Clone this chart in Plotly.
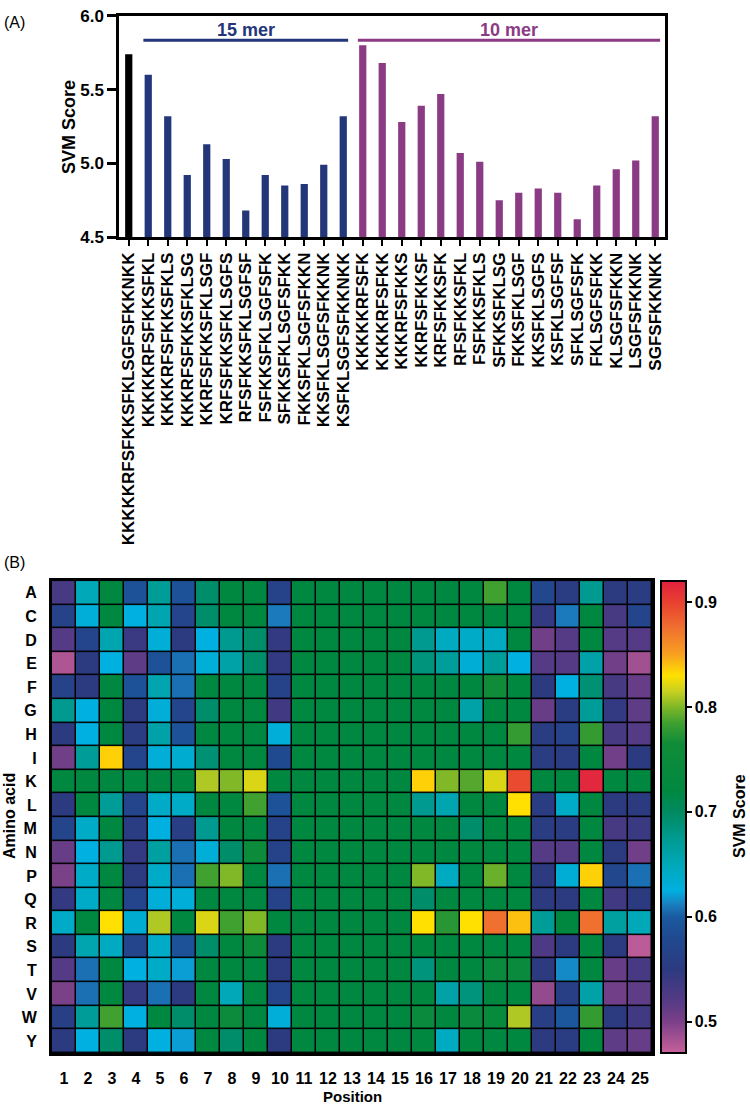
import plotly.graph_objects as go

W, H = 750, 1115

# ---------------- data: panel A ----------------
peptides = [
    "KKKKKRFSFKKSFKLSGFSFKKNKK",
    "KKKKKRFSFKKSFKL", "KKKKRFSFKKSFKLS", "KKKRFSFKKSFKLSG", "KKRFSFKKSFKLSGF",
    "KRFSFKKSFKLSGFS", "RFSFKKSFKLSGFSF", "FSFKKSFKLSGFSFK", "SFKKSFKLSGFSFKK",
    "FKKSFKLSGFSFKKN", "KKSFKLSGFSFKKNK", "KSFKLSGFSFKKNKK",
    "KKKKKRFSFK", "KKKKRFSFKK", "KKKRFSFKKS", "KKRFSFKKSF", "KRFSFKKSFK",
    "RFSFKKSFKL", "FSFKKSFKLS", "SFKKSFKLSG", "FKKSFKLSGF", "KKSFKLSGFS",
    "KSFKLSGFSF", "SFKLSGFSFK", "FKLSGFSFKK", "KLSGFSFKKN", "LSGFSFKKNK",
    "SGFSFKKNKK",
]
scores = [
    5.74,
    5.60, 5.32, 4.92, 5.13, 5.03, 4.68, 4.92, 4.85, 4.86, 4.99, 5.32,
    5.80, 5.68, 5.28, 5.39, 5.47, 5.07, 5.01, 4.75, 4.80, 4.83, 4.80,
    4.62, 4.85, 4.96, 5.02, 5.32,
]
groups = ["25 mer"] + ["15 mer"] * 11 + ["10 mer"] * 16
group_colors = {"25 mer": "#000000", "15 mer": "#24367a", "10 mer": "#8b3b84"}
bracket_groups = ["15 mer", "10 mer"]
y_ticks = [4.5, 5.0, 5.5, 6.0]

# ---------------- data: panel B ----------------
amino_acids = list("ACDEFGHIKLMNPQRSTVWY")
positions = list(range(1, 26))
G = 0.72
heat = [
    # A
    [0.53, 0.65, G, 0.59, 0.67, 0.59, 0.695, G, G, 0.565, G, G, G, G, G, G, G, G, 0.785, G, 0.575, 0.555, 0.675, 0.55, 0.555],
    # C
    [0.565, 0.63, G, 0.625, 0.655, 0.57, 0.695, G, G, 0.61, G, G, G, G, G, G, G, G, G, G, 0.545, 0.61, G, 0.53, 0.57],
    # D
    [0.52, 0.57, 0.655, 0.54, 0.63, 0.55, 0.625, 0.675, 0.695, 0.545, G, G, G, G, G, 0.675, 0.645, 0.64, 0.645, G, 0.505, 0.52, G, 0.52, 0.52],
    # E
    [0.48, 0.55, 0.625, 0.515, 0.59, 0.607, 0.63, 0.66, 0.695, 0.545, G, G, G, G, G, 0.685, 0.668, 0.632, 0.668, 0.625, 0.52, 0.52, 0.66, 0.505, 0.485],
    # F
    [0.565, 0.55, G, 0.59, 0.655, 0.607, G, G, G, 0.565, G, G, G, G, G, G, G, G, 0.765, G, 0.55, 0.625, 0.69, 0.53, 0.51],
    # G
    [0.675, 0.625, G, 0.55, 0.63, 0.57, 0.695, G, G, 0.535, G, G, G, G, G, G, G, 0.66, G, G, 0.51, 0.555, 0.67, 0.545, 0.515],
    # H
    [0.55, 0.625, G, 0.555, 0.66, 0.59, G, G, G, 0.63, G, G, G, G, G, G, G, G, G, 0.78, 0.555, 0.565, 0.78, 0.53, 0.52],
    # I
    [0.505, 0.67, 0.835, 0.57, 0.63, 0.635, 0.69, G, G, 0.58, G, G, G, G, G, G, G, G, G, G, 0.555, 0.555, G, 0.505, 0.55],
    # K
    [G, G, G, G, G, G, 0.81, 0.80, 0.82, G, G, G, G, G, G, 0.835, 0.80, 0.79, 0.82, 0.895, G, G, 0.915, G, G],
    # L
    [0.55, G, 0.67, 0.57, 0.64, 0.64, G, G, 0.785, 0.59, G, G, G, G, G, 0.675, 0.655, G, G, 0.83, 0.555, 0.64, G, 0.55, 0.55],
    # M
    [0.57, 0.64, G, 0.555, 0.625, 0.56, 0.675, G, G, 0.565, G, G, G, G, G, G, G, 0.695, G, G, 0.555, 0.555, G, 0.53, 0.54],
    # N
    [0.51, 0.625, 0.675, 0.545, 0.665, 0.607, 0.63, 0.695, 0.755, 0.565, G, G, G, G, G, G, G, G, G, G, 0.52, 0.52, G, 0.55, 0.505],
    # P
    [0.50, 0.64, G, 0.55, 0.64, 0.607, 0.785, 0.80, G, 0.607, G, G, G, G, G, 0.80, 0.645, G, 0.795, G, 0.55, 0.632, 0.835, 0.575, 0.607],
    # Q
    [0.545, 0.64, G, 0.57, 0.63, 0.63, G, G, G, 0.565, G, G, G, G, G, 0.695, G, G, G, G, 0.55, 0.55, G, 0.535, 0.55],
    # R
    [0.64, G, 0.83, 0.635, 0.81, G, 0.82, 0.785, 0.80, G, G, G, G, G, G, 0.83, 0.775, 0.83, 0.875, 0.84, 0.67, G, 0.875, 0.665, 0.65],
    # S
    [0.55, 0.655, 0.645, 0.57, 0.64, 0.59, 0.695, G, 0.755, 0.55, G, G, G, G, G, G, G, G, G, G, 0.525, 0.55, G, 0.55, 0.475],
    # T
    [0.52, 0.607, G, 0.625, 0.64, 0.62, G, G, G, 0.55, G, G, G, G, G, 0.685, G, G, 0.745, 0.745, 0.55, 0.615, G, 0.51, 0.53],
    # V
    [0.50, 0.607, G, 0.545, 0.607, 0.55, G, 0.65, G, 0.57, G, G, G, G, G, G, 0.66, 0.685, G, G, 0.49, 0.56, 0.66, 0.505, 0.515],
    # W
    [0.56, 0.67, 0.785, 0.625, G, 0.695, G, 0.75, G, 0.63, G, G, G, G, G, 0.745, G, 0.745, 0.74, 0.81, 0.56, 0.595, 0.78, 0.55, 0.535],
    # Y
    [0.55, 0.625, 0.695, 0.55, 0.625, 0.62, G, 0.695, G, 0.55, G, G, G, G, G, G, 0.645, G, G, G, 0.55, 0.555, G, 0.515, 0.51],
]
zmin, zmax = 0.47, 0.92
cbar_ticks = [0.5, 0.6, 0.7, 0.8, 0.9]

# colour scale (value, colour)
scale_pts = [
    (0.47, "#c8609a"), (0.50, "#7a4088"), (0.52, "#553a85"), (0.55, "#2c3a80"),
    (0.58, "#204a90"), (0.60, "#1a5aa0"), (0.612, "#1a80c0"), (0.625, "#00b0e0"),
    (0.65, "#00a8b8"), (0.675, "#009a90"), (0.70, "#008a60"), (0.72, "#008840"),
    (0.765, "#108c38"), (0.785, "#40a030"), (0.80, "#80b828"), (0.815, "#c8d020"),
    (0.83, "#ffe000"), (0.85, "#f8a020"), (0.875, "#f07030"), (0.90, "#e84030"),
    (0.92, "#e02040"),
]
colorscale = [[(v - zmin) / (zmax - zmin), c] for v, c in scale_pts]


def px(x):
    return x / W


def py(y):
    return 1 - y / H


FONT = "Arial, Liberation Sans, sans-serif"
fig = go.Figure()

fig.add_trace(go.Bar(
    x=peptides, y=scores, width=0.37,
    marker=dict(color=[group_colors[g] for g in groups], line=dict(width=0)),
    xaxis="x", yaxis="y", showlegend=False,
))

fig.add_trace(go.Heatmap(
    x=positions, y=amino_acids, z=heat, zmin=zmin, zmax=zmax,
    colorscale=colorscale, xgap=1.5, ygap=1.5,
    xaxis="x2", yaxis="y2",
    colorbar=dict(
        x=px(661), xanchor="left", y=py(582), yanchor="top",
        len=480 / H, lenmode="fraction", thickness=25, thicknessmode="pixels",
        outlinewidth=2, outlinecolor="black",
        tickvals=cbar_ticks, ticktext=[f"{t:.1f}" for t in cbar_ticks],
        ticks="outside", ticklen=5, tickwidth=2, tickcolor="black",
        tickfont=dict(family=FONT, size=16, color="black", weight="bold"),
        xpad=0, ypad=0,
    ),
))

shapes = []
# black background under heatmap so gaps show as cell borders
shapes.append(dict(type="rect", xref="x2 domain", yref="y2 domain", x0=0, x1=1, y0=0, y1=1,
                   fillcolor="black", line=dict(width=0), layer="below"))
annotations = []
for g in bracket_groups:
    idx = [i for i, gg in enumerate(groups) if gg == g]
    shapes.append(dict(type="line", xref="x", yref="y", x0=idx[0] - 0.25, x1=idx[-1] + 0.25,
                       y0=5.834, y1=5.834, line=dict(color=group_colors[g], width=3)))
    annotations.append(dict(x=(idx[0] + idx[-1]) / 2, y=5.905, xref="x", yref="y",
                            xanchor="center", yanchor="middle",
                            text=f"<b>{g}</b>", showarrow=False,
                            font=dict(family=FONT, size=18, color=group_colors[g])))


def ann(x, y, text, size, angle=0, xanchor="center"):
    return dict(x=px(x), y=py(y), xref="paper", yref="paper", text=text, showarrow=False,
                xanchor=xanchor, yanchor="middle", textangle=angle,
                font=dict(family=FONT, size=size, color="black"))


annotations += [
    ann(2, 14, "(A)", 16, xanchor="left"),
    ann(2, 563, "(B)", 16, xanchor="left"),
    ann(69, 120, "<b>SVM Score</b>", 18, -90),
    ann(9, 821, "<b>Amino acid</b>", 16, -90),
    ann(352, 1106, "<b>Position</b>", 15),
    ann(739, 821, "<b>SVM Score</b>", 16, -90),
]

bold16 = dict(family=FONT, size=16, color="black", weight="bold")
fig.update_layout(
    width=W, height=H, margin=dict(l=0, r=0, t=0, b=0),
    paper_bgcolor="white", plot_bgcolor="white",
    font=dict(family=FONT, color="black"),
    xaxis=dict(domain=[px(119), px(665)], anchor="y", type="category",
               categoryorder="array", categoryarray=peptides,
               range=[-0.5, len(peptides) - 0.5],
               tickmode="linear", tick0=0, dtick=1,
               tickangle=-90, tickfont=dict(family=FONT, size=17, color="black", weight="bold"),
               ticks="outside", ticklen=6, tickwidth=2, tickcolor="black",
               ticklabeloverflow="allow",
               showline=True, linewidth=2.5, linecolor="black", mirror=True,
               showgrid=False, zeroline=False),
    yaxis=dict(domain=[py(232), py(7)], anchor="x", range=[4.5, 6.0],
               tickvals=y_ticks, ticktext=[f"{t:.1f}" for t in y_ticks],
               tickfont=dict(family=FONT, size=17, color="black", weight="bold"),
               ticks="outside", ticklen=9, tickwidth=2.5, tickcolor="black",
               ticklabeloverflow="allow",
               showline=True, linewidth=2.5, linecolor="black", mirror=True,
               showgrid=False, zeroline=False),
    xaxis2=dict(domain=[px(52), px(652)], anchor="y2", range=[0.5, 25.5],
                tickvals=positions, ticktext=[str(p) for p in positions],
                tickfont=bold16, ticks="outside", ticklen=9, tickcolor="rgba(0,0,0,0)",
                ticklabeloverflow="allow",
                showline=True, linewidth=3, linecolor="black", mirror=True,
                showgrid=False, zeroline=False),
    yaxis2=dict(domain=[py(1062), py(582)], anchor="x2", type="category",
                categoryorder="array", categoryarray=amino_acids, autorange="reversed",
                tickfont=bold16, ticks="outside", ticklen=9, tickcolor="rgba(0,0,0,0)",
                ticklabeloverflow="allow",
                showline=True, linewidth=3, linecolor="black", mirror=True,
                showgrid=False, zeroline=False),
    shapes=shapes, annotations=annotations,
)

fig.write_html("out.html", config={"displayModeBar": False},
               post_script="document.body.style.margin='0px';")
